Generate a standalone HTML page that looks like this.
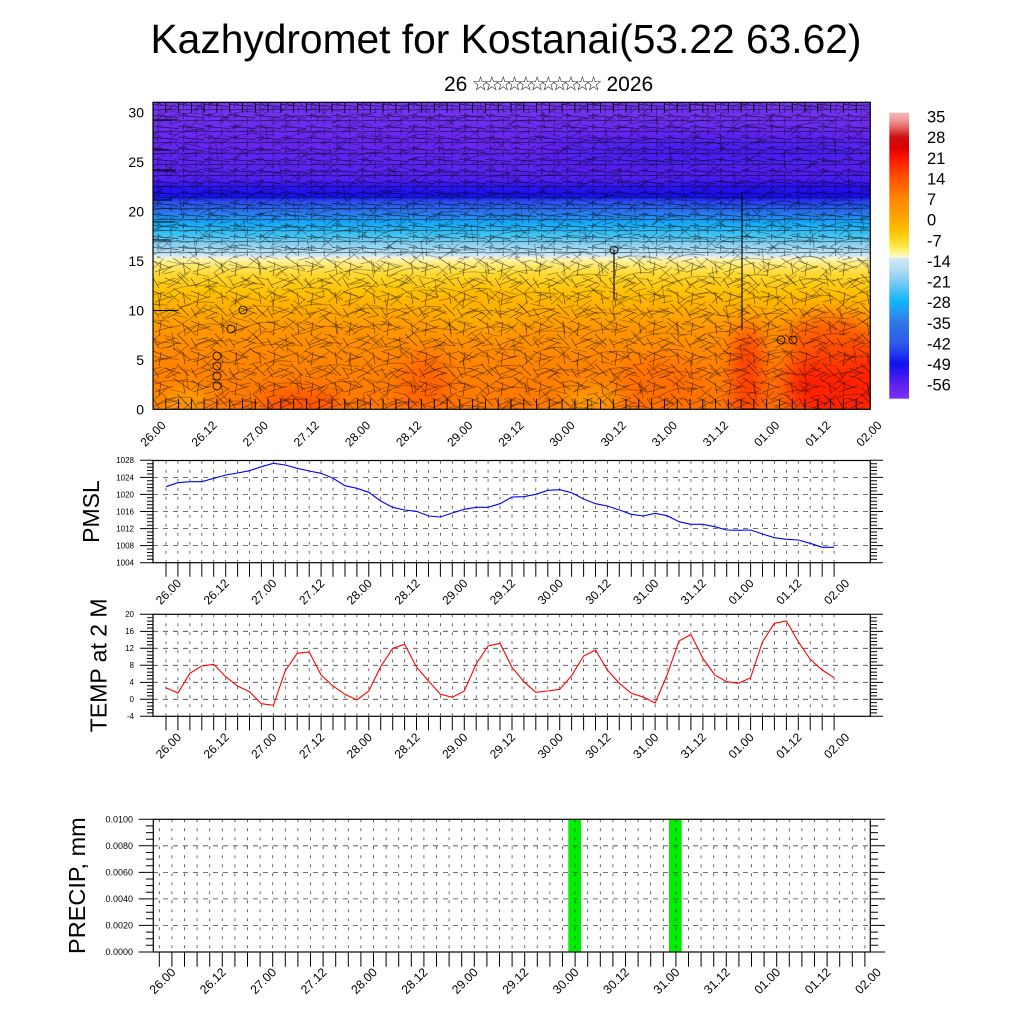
<!DOCTYPE html>
<html>
<head>
<meta charset="utf-8">
<style>
html,body{margin:0;padding:0;background:#fff;}
svg{display:block;}
text{font-family:"Liberation Sans",Arial,sans-serif;fill:#000;}
</style>
</head>
<body>
<svg width="1024" height="1024" viewBox="0 0 1024 1024" xmlns="http://www.w3.org/2000/svg">
<defs>
<clipPath id="cp"><rect x="153" y="102.3" width="717.3" height="307"/></clipPath>
<linearGradient id="g1" gradientUnits="userSpaceOnUse" x1="0" y1="102.3" x2="0" y2="409.3">
<stop offset="0" stop-color="#7636f2"/>
<stop offset="0.06" stop-color="#6e2ef0"/>
<stop offset="0.13" stop-color="#6626f0"/>
<stop offset="0.2" stop-color="#5e24f0"/>
<stop offset="0.25" stop-color="#5020f0"/>
<stop offset="0.28" stop-color="#2a14f0"/>
<stop offset="0.305" stop-color="#1810f0"/>
<stop offset="0.325" stop-color="#2c50ea"/>
<stop offset="0.36" stop-color="#2a78ee"/>
<stop offset="0.395" stop-color="#16aaf6"/>
<stop offset="0.43" stop-color="#3cc2f4"/>
<stop offset="0.465" stop-color="#90d2f2"/>
<stop offset="0.503" stop-color="#d4ecf8"/>
<stop offset="0.507" stop-color="#fff6c0"/>
<stop offset="0.525" stop-color="#ffec80"/>
<stop offset="0.56" stop-color="#ffd830"/>
<stop offset="0.62" stop-color="#ffc000"/>
<stop offset="0.68" stop-color="#ffaa00"/>
<stop offset="0.74" stop-color="#ff9600"/>
<stop offset="0.84" stop-color="#ff8600"/>
<stop offset="1" stop-color="#ff7600"/>
</linearGradient>
<linearGradient id="gc" gradientUnits="userSpaceOnUse" x1="0" y1="112.7" x2="0" y2="398.7">
<stop offset="0" stop-color="#f6b8b8"/>
<stop offset="0.026" stop-color="#f09898"/>
<stop offset="0.053" stop-color="#e46060"/>
<stop offset="0.085" stop-color="#cc1010"/>
<stop offset="0.123" stop-color="#dc0000"/>
<stop offset="0.158" stop-color="#ff1400"/>
<stop offset="0.193" stop-color="#ff3400"/>
<stop offset="0.228" stop-color="#ff5200"/>
<stop offset="0.27" stop-color="#ff7000"/>
<stop offset="0.302" stop-color="#ff8800"/>
<stop offset="0.34" stop-color="#ff9800"/>
<stop offset="0.372" stop-color="#ffa800"/>
<stop offset="0.41" stop-color="#ffc000"/>
<stop offset="0.445" stop-color="#ffd820"/>
<stop offset="0.48" stop-color="#fff070"/>
<stop offset="0.505" stop-color="#fffad0"/>
<stop offset="0.508" stop-color="#d4eaf8"/>
<stop offset="0.55" stop-color="#b0dcf2"/>
<stop offset="0.589" stop-color="#80ccf2"/>
<stop offset="0.627" stop-color="#40c0f6"/>
<stop offset="0.662" stop-color="#10b4f8"/>
<stop offset="0.7" stop-color="#2894f0"/>
<stop offset="0.732" stop-color="#3078e8"/>
<stop offset="0.771" stop-color="#3068e6"/>
<stop offset="0.808" stop-color="#3058ea"/>
<stop offset="0.85" stop-color="#2030f0"/>
<stop offset="0.878" stop-color="#1010f0"/>
<stop offset="0.916" stop-color="#3818f0"/>
<stop offset="0.951" stop-color="#6020f0"/>
<stop offset="1" stop-color="#7a34f2"/>
</linearGradient>
<filter id="bl" x="-50%" y="-50%" width="200%" height="200%"><feGaussianBlur stdDeviation="10"/></filter>
<pattern id="pu" patternUnits="userSpaceOnUse" x="153" y="102" width="25.57" height="11">
<path d="M0 2.5L25.6 4.5M0 8L25.6 7M5 0V6M17.8 5V11M5 0.5L9 3" stroke="#000" stroke-width="0.65" fill="none" opacity="0.65"/>
</pattern>
<pattern id="pl" patternUnits="userSpaceOnUse" x="153" y="258" width="38" height="30">
<path d="M0 3L18 10M20 0L38 12M2 14L20 8M24 16L36 28M4 27L22 20M26 24L14 30M8 4L6 18M30 4L32 16M12 20L28 26M0 20L6 30" stroke="#000" stroke-width="0.65" fill="none" opacity="0.65"/>
</pattern>
<pattern id="pl2" patternUnits="userSpaceOnUse" width="29" height="23" patternTransform="rotate(25)">
<path d="M0 5L14 2M16 10L29 14M3 18L12 11M19 20L26 4" stroke="#000" stroke-width="0.6" fill="none" opacity="0.5"/>
</pattern>
<pattern id="pl3" patternUnits="userSpaceOnUse" width="53" height="41" patternTransform="rotate(-20)">
<path d="M0 6Q20 0 40 10T53 14M5 25Q25 18 45 30M10 38L30 33M48 2L44 20" stroke="#000" stroke-width="0.6" fill="none" opacity="0.5"/>
</pattern>
<path id="bb" d="M165.8 0v10.5M178.6 0v10.5M191.4 0v10.5M204.1 0v10.5M216.9 0v10.5M229.7 0v10.5M242.5 0v10.5M255.3 0v10.5M268.1 0v10.5M280.9 0v10.5M293.6 0v10.5M306.4 0v10.5M319.2 0v10.5M332 0v10.5M344.8 0v10.5M357.6 0v10.5M370.3 0v10.5M383.1 0v10.5M395.9 0v10.5M408.7 0v10.5M421.5 0v10.5M434.3 0v10.5M447.1 0v10.5M459.8 0v10.5M472.6 0v10.5M485.4 0v10.5M498.2 0v10.5M511 0v10.5M523.8 0v10.5M536.6 0v10.5M549.3 0v10.5M562.1 0v10.5M574.9 0v10.5M587.7 0v10.5M600.5 0v10.5M613.3 0v10.5M626 0v10.5M638.8 0v10.5M651.6 0v10.5M664.4 0v10.5M677.2 0v10.5M690 0v10.5M702.8 0v10.5M715.5 0v10.5M728.3 0v10.5M741.1 0v10.5M753.9 0v10.5M766.7 0v10.5M779.5 0v10.5M792.3 0v10.5M805 0v10.5M817.8 0v10.5M830.6 0v10.5M843.4 0v10.5M856.2 0v10.5"/>
<path id="vg" d="M166 0v102M177.9 0v102M189.9 0v102M201.8 0v102M213.7 0v102M225.7 0v102M237.6 0v102M249.5 0v102M261.4 0v102M273.4 0v102M285.3 0v102M297.2 0v102M309.2 0v102M321.1 0v102M333 0v102M345 0v102M356.9 0v102M368.8 0v102M380.7 0v102M392.7 0v102M404.6 0v102M416.5 0v102M428.5 0v102M440.4 0v102M452.3 0v102M464.3 0v102M476.2 0v102M488.1 0v102M500 0v102M512 0v102M523.9 0v102M535.8 0v102M547.8 0v102M559.7 0v102M571.6 0v102M583.6 0v102M595.5 0v102M607.4 0v102M619.3 0v102M631.3 0v102M643.2 0v102M655.1 0v102M667.1 0v102M679 0v102M690.9 0v102M702.9 0v102M714.8 0v102M726.7 0v102M738.6 0v102M750.6 0v102M762.5 0v102M774.4 0v102M786.4 0v102M798.3 0v102M810.2 0v102M822.2 0v102M834.1 0v102"/>
<path id="tk" d="M166 0v14M177.9 0v14M189.9 0v14M201.8 0v14M213.7 0v14M225.7 0v14M237.6 0v14M249.5 0v14M261.4 0v14M273.4 0v14M285.3 0v14M297.2 0v14M309.2 0v14M321.1 0v14M333 0v14M345 0v14M356.9 0v14M368.8 0v14M380.7 0v14M392.7 0v14M404.6 0v14M416.5 0v14M428.5 0v14M440.4 0v14M452.3 0v14M464.3 0v14M476.2 0v14M488.1 0v14M500 0v14M512 0v14M523.9 0v14M535.8 0v14M547.8 0v14M559.7 0v14M571.6 0v14M583.6 0v14M595.5 0v14M607.4 0v14M619.3 0v14M631.3 0v14M643.2 0v14M655.1 0v14M667.1 0v14M679 0v14M690.9 0v14M702.9 0v14M714.8 0v14M726.7 0v14M738.6 0v14M750.6 0v14M762.5 0v14M774.4 0v14M786.4 0v14M798.3 0v14M810.2 0v14M822.2 0v14M834.1 0v14"/>
<path id="ytk" d="M140 0H153M140 17.1H153M140 34.1H153M140 51.2H153M140 68.3H153M140 85.3H153M140 102.4H153M147 3.4H153M147 6.8H153M147 10.2H153M147 13.7H153M147 20.5H153M147 23.9H153M147 27.3H153M147 30.7H153M147 37.5H153M147 41H153M147 44.4H153M147 47.8H153M147 54.6H153M147 58H153M147 61.4H153M147 64.9H153M147 71.7H153M147 75.1H153M147 78.5H153M147 81.9H153M147 88.7H153M147 92.2H153M147 95.6H153M147 99H153M870 0H883M870 17.1H883M870 34.1H883M870 51.2H883M870 68.3H883M870 85.3H883M870 102.4H883M870 3.4H877M870 6.8H877M870 10.2H877M870 13.7H877M870 20.5H877M870 23.9H877M870 27.3H877M870 30.7H877M870 37.5H877M870 41H877M870 44.4H877M870 47.8H877M870 54.6H877M870 58H877M870 61.4H877M870 64.9H877M870 71.7H877M870 75.1H877M870 78.5H877M870 81.9H877M870 88.7H877M870 92.2H877M870 95.6H877M870 99H877"/>
</defs>

<!-- Title -->
<text x="506" y="53" font-size="41" text-anchor="middle" textLength="711" lengthAdjust="spacingAndGlyphs">Kazhydromet for Kostanai(53.22 63.62)</text>
<text x="444" y="91" font-size="21">26</text>
<text x="480.6 491.9 503.2 514.5 525.8 537.1 548.4 559.7 571 582.3 593.6" y="90.5" font-size="20" text-anchor="middle" style="font-family:'DejaVu Sans',sans-serif;fill:#222">☆☆☆☆☆☆☆☆☆☆☆</text>
<text x="606.5" y="91" font-size="21">2026</text>

<!-- Top contour panel -->
<g clip-path="url(#cp)">
<rect x="153" y="102.3" width="717.3" height="307" fill="url(#g1)"/>
<g filter="url(#bl)">
<ellipse cx="720" cy="152" rx="170" ry="8" fill="#2818f0" opacity="0.85"/>
<ellipse cx="780" cy="192" rx="100" ry="7" fill="#1a10f0" opacity="0.6"/>
<ellipse cx="845" cy="385" rx="60" ry="45" fill="#ff2400"/>
<ellipse cx="830" cy="340" rx="45" ry="25" fill="#ff5000" opacity="0.8"/>
<ellipse cx="748" cy="375" rx="14" ry="50" fill="#ff3800"/>
<ellipse cx="300" cy="405" rx="40" ry="14" fill="#ff5000"/>
<ellipse cx="425" cy="385" rx="25" ry="30" fill="#ff6400"/>
<ellipse cx="660" cy="385" rx="45" ry="25" fill="#ff6a00" opacity="0.8"/>
<ellipse cx="590" cy="400" rx="30" ry="12" fill="#ffa400"/>
<ellipse cx="185" cy="400" rx="28" ry="12" fill="#ffa400"/>
<ellipse cx="480" cy="310" rx="45" ry="20" fill="#ffb400" opacity="0.7"/>
</g>
<rect x="153" y="102.3" width="717.3" height="156" fill="url(#pu)"/>
<rect x="153" y="258" width="717.3" height="152" fill="url(#pl)"/>
<rect x="153" y="102.3" width="717.3" height="307" fill="url(#pl2)"/>
<rect x="153" y="102.3" width="717.3" height="307" fill="url(#pl3)"/>
<g stroke="#000" stroke-width="0.9" fill="none">
<use href="#bb" transform="translate(0,102.3)"/>
<use href="#bb" transform="translate(0,398.8)"/>
<path d="M742 192V330M614 250V300M153 310.5H178M153 120H178M153 150H170M153 170H176M153 200H172M153 222H175M153 240H170" stroke-width="1.1"/>
<circle cx="243" cy="310" r="4" stroke-width="0.8"/>
<circle cx="231" cy="329" r="4" stroke-width="0.8"/>
<circle cx="217" cy="356" r="4" stroke-width="0.8"/>
<circle cx="217" cy="366" r="4" stroke-width="0.8"/>
<circle cx="217" cy="376" r="4" stroke-width="0.8"/>
<circle cx="217" cy="386" r="4" stroke-width="0.8"/>
<circle cx="614" cy="250" r="4" stroke-width="0.8"/>
<circle cx="781" cy="340" r="4" stroke-width="0.8"/>
<circle cx="793" cy="340" r="4" stroke-width="0.8"/>
</g>
</g>
<rect x="153" y="102.3" width="717.3" height="307" fill="none" stroke="#000" stroke-width="1.2"/>

<g font-size="14" text-anchor="end">
<text x="144" y="117.6">30</text>
<text x="144" y="167">25</text>
<text x="144" y="216.5">20</text>
<text x="144" y="266">15</text>
<text x="144" y="315.4">10</text>
<text x="144" y="364.9">5</text>
<text x="144" y="414.3">0</text>
</g>

<g font-size="12" text-anchor="end">
<text transform="translate(166.5,426) rotate(-45)">26.00</text>
<text transform="translate(217.6,426) rotate(-45)">26.12</text>
<text transform="translate(268.8,426) rotate(-45)">27.00</text>
<text transform="translate(319.9,426) rotate(-45)">27.12</text>
<text transform="translate(371.1,426) rotate(-45)">28.00</text>
<text transform="translate(422.2,426) rotate(-45)">28.12</text>
<text transform="translate(473.3,426) rotate(-45)">29.00</text>
<text transform="translate(524.5,426) rotate(-45)">29.12</text>
<text transform="translate(575.6,426) rotate(-45)">30.00</text>
<text transform="translate(626.8,426) rotate(-45)">30.12</text>
<text transform="translate(677.9,426) rotate(-45)">31.00</text>
<text transform="translate(729,426) rotate(-45)">31.12</text>
<text transform="translate(780.2,426) rotate(-45)">01.00</text>
<text transform="translate(831.3,426) rotate(-45)">01.12</text>
<text transform="translate(882.5,426) rotate(-45)">02.00</text>
</g>

<!-- Colorbar -->
<rect x="889.3" y="112.7" width="19.7" height="286" fill="url(#gc)"/>
<g font-size="16.5">
<text x="927" y="122.6">35</text>
<text x="927" y="143.2">28</text>
<text x="927" y="163.8">21</text>
<text x="927" y="184.4">14</text>
<text x="927" y="205.1">7</text>
<text x="927" y="225.7">0</text>
<text x="927" y="246.3">-7</text>
<text x="927" y="266.9">-14</text>
<text x="927" y="287.5">-21</text>
<text x="927" y="308.1">-28</text>
<text x="927" y="328.8">-35</text>
<text x="927" y="349.4">-42</text>
<text x="927" y="370">-49</text>
<text x="927" y="390.6">-56</text>
</g>

<!-- PMSL panel -->
<g stroke="#444" stroke-width="0.8" fill="none">
<use href="#vg" transform="translate(0,460.7)" stroke-dasharray="3 6"/>
<path d="M153 477.4H870M153 494.4H870M153 511.5H870M153 528.6H870M153 545.6H870" stroke-dasharray="5 5"/>
</g>
<polyline fill="none" stroke="#0000ff" stroke-width="1.1" points="166,486.7 177.9,482.7 189.9,481.7 201.8,481.7 213.7,478.3 225.7,475 237.6,473 249.5,470.7 261.4,466.7 273.4,463.3 285.3,465 297.2,468.3 309.2,471 321.1,473.3 333,478.3 345,485.7 356.9,488.3 368.8,492.3 380.7,501 392.7,507.3 404.6,510 416.5,511.3 428.5,516 440.4,517 452.3,513 464.3,509.3 476.2,507.3 488.1,507.3 500,503.7 512,497 523.9,496.7 535.8,494.3 547.8,490.3 559.7,489.7 571.6,492.7 583.6,499 595.5,503.7 607.4,506 619.3,510 631.3,514.3 643.2,516 655.1,513.3 667.1,515.7 679,521.7 690.9,524.3 702.9,524.3 714.8,526.7 726.7,530 738.6,530.3 750.6,530 762.5,534 774.4,537.7 786.4,539.3 798.3,540 810.2,543.3 822.2,547.3 834.1,547.3"/>
<rect x="153" y="460.5" width="717.3" height="102.2" fill="none" stroke="#000" stroke-width="1.2"/>
<g stroke="#000" stroke-width="1" fill="none">
<use href="#tk" transform="translate(0,562.7)"/>
<use href="#ytk" transform="translate(0,460.3)"/>
</g>
<g font-size="8" text-anchor="end">
<text x="134" y="463.2">1028</text>
<text x="134" y="480.3">1024</text>
<text x="134" y="497.3">1020</text>
<text x="134" y="514.4">1016</text>
<text x="134" y="531.5">1012</text>
<text x="134" y="548.5">1008</text>
<text x="134" y="565.6">1004</text>
</g>
<text transform="translate(99,511.5) rotate(-90)" font-size="23" text-anchor="middle">PMSL</text>
<g font-size="12" text-anchor="end">
<text transform="translate(182,584) rotate(-45)">26.00</text>
<text transform="translate(229.7,584) rotate(-45)">26.12</text>
<text transform="translate(277.4,584) rotate(-45)">27.00</text>
<text transform="translate(325.2,584) rotate(-45)">27.12</text>
<text transform="translate(372.9,584) rotate(-45)">28.00</text>
<text transform="translate(420.6,584) rotate(-45)">28.12</text>
<text transform="translate(468.3,584) rotate(-45)">29.00</text>
<text transform="translate(516,584) rotate(-45)">29.12</text>
<text transform="translate(563.8,584) rotate(-45)">30.00</text>
<text transform="translate(611.5,584) rotate(-45)">30.12</text>
<text transform="translate(659.2,584) rotate(-45)">31.00</text>
<text transform="translate(706.9,584) rotate(-45)">31.12</text>
<text transform="translate(754.6,584) rotate(-45)">01.00</text>
<text transform="translate(802.4,584) rotate(-45)">01.12</text>
<text transform="translate(850.1,584) rotate(-45)">02.00</text>
</g>

<!-- TEMP panel -->
<g stroke="#444" stroke-width="0.8" fill="none">
<use href="#vg" transform="translate(0,614.3)" stroke-dasharray="3 6"/>
<path d="M153 631.3H870M153 648.3H870M153 665.3H870M153 682.3H870M153 699.3H870" stroke-dasharray="5 5"/>
</g>
<polyline fill="none" stroke="#ff0000" stroke-width="1.1" points="166,687.7 177.9,693 189.9,673.3 201.8,666 213.7,664.3 225.7,676.7 237.6,686 249.5,691.7 261.4,703.7 273.4,705.3 285.3,670.7 297.2,653.3 309.2,652 321.1,675 333,686 345,694.3 356.9,700 368.8,691 380.7,666.7 392.7,648.3 404.6,644.3 416.5,667 428.5,681 440.4,694.3 452.3,697.3 464.3,691 476.2,664 488.1,646 500,643.3 512,667.3 523.9,681.7 535.8,692.3 547.8,691 559.7,689.3 571.6,675.7 583.6,656 595.5,650 607.4,670 619.3,683.3 631.3,693.3 643.2,697 655.1,703 667.1,675 679,641 690.9,634.5 702.9,658.3 714.8,675 726.7,681.7 738.6,683.3 750.6,677.7 762.5,641.7 774.4,623.3 786.4,621 798.3,641.7 810.2,659.3 822.2,670 834.1,677.7"/>
<rect x="153" y="614.3" width="717.3" height="102" fill="none" stroke="#000" stroke-width="1.2"/>
<g stroke="#000" stroke-width="1" fill="none">
<use href="#tk" transform="translate(0,716.3)"/>
<use href="#ytk" transform="translate(0,614.3) scale(1,0.996)"/>
</g>
<g font-size="8" text-anchor="end">
<text x="134" y="617.2">20</text>
<text x="134" y="634.2">16</text>
<text x="134" y="651.2">12</text>
<text x="134" y="668.2">8</text>
<text x="134" y="685.2">4</text>
<text x="134" y="702.2">0</text>
<text x="134" y="719.2">-4</text>
</g>
<text transform="translate(106.5,665.3) rotate(-90)" font-size="23" text-anchor="middle">TEMP at 2 M</text>
<g font-size="12" text-anchor="end">
<text transform="translate(182,738) rotate(-45)">26.00</text>
<text transform="translate(229.7,738) rotate(-45)">26.12</text>
<text transform="translate(277.4,738) rotate(-45)">27.00</text>
<text transform="translate(325.2,738) rotate(-45)">27.12</text>
<text transform="translate(372.9,738) rotate(-45)">28.00</text>
<text transform="translate(420.6,738) rotate(-45)">28.12</text>
<text transform="translate(468.3,738) rotate(-45)">29.00</text>
<text transform="translate(516,738) rotate(-45)">29.12</text>
<text transform="translate(563.8,738) rotate(-45)">30.00</text>
<text transform="translate(611.5,738) rotate(-45)">30.12</text>
<text transform="translate(659.2,738) rotate(-45)">31.00</text>
<text transform="translate(706.9,738) rotate(-45)">31.12</text>
<text transform="translate(754.6,738) rotate(-45)">01.00</text>
<text transform="translate(802.4,738) rotate(-45)">01.12</text>
<text transform="translate(850.1,738) rotate(-45)">02.00</text>
</g>

<!-- PRECIP panel -->
<rect x="568.3" y="819.3" width="12.7" height="132.7" fill="#00ee00"/>
<rect x="669" y="819.3" width="12.7" height="132.7" fill="#00ee00"/>
<g stroke="#444" stroke-width="0.8" fill="none">
<path stroke-dasharray="3 6" d="M159.3 819.3v132.7M171.9 819.3v132.7M184.5 819.3v132.7M197.1 819.3v132.7M209.7 819.3v132.7M222.3 819.3v132.7M234.9 819.3v132.7M247.5 819.3v132.7M260.1 819.3v132.7M272.7 819.3v132.7M285.3 819.3v132.7M297.9 819.3v132.7M310.5 819.3v132.7M323.1 819.3v132.7M335.7 819.3v132.7M348.3 819.3v132.7M360.9 819.3v132.7M373.5 819.3v132.7M386.1 819.3v132.7M398.7 819.3v132.7M411.3 819.3v132.7M423.9 819.3v132.7M436.5 819.3v132.7M449.1 819.3v132.7M461.7 819.3v132.7M474.3 819.3v132.7M486.9 819.3v132.7M499.5 819.3v132.7M512.1 819.3v132.7M524.7 819.3v132.7M537.3 819.3v132.7M549.9 819.3v132.7M562.5 819.3v132.7M575.1 819.3v132.7M587.7 819.3v132.7M600.3 819.3v132.7M612.9 819.3v132.7M625.5 819.3v132.7M638.1 819.3v132.7M650.7 819.3v132.7M663.3 819.3v132.7M675.9 819.3v132.7M688.5 819.3v132.7M701.1 819.3v132.7M713.7 819.3v132.7M726.3 819.3v132.7M738.9 819.3v132.7M751.5 819.3v132.7M764.1 819.3v132.7M776.7 819.3v132.7M789.3 819.3v132.7M801.9 819.3v132.7M814.5 819.3v132.7M827.1 819.3v132.7M839.7 819.3v132.7M852.3 819.3v132.7M864.9 819.3v132.7"/>
<path stroke-dasharray="5 5" d="M153 845.8H870M153 872.4H870M153 898.9H870M153 925.4H870"/>
</g>
<rect x="153.3" y="819.3" width="717" height="132.7" fill="none" stroke="#000" stroke-width="1.2"/>
<g stroke="#000" stroke-width="1" fill="none">
<path d="M159.3 952v14.7M171.9 952v14.7M184.5 952v14.7M197.1 952v14.7M209.7 952v14.7M222.3 952v14.7M234.9 952v14.7M247.5 952v14.7M260.1 952v14.7M272.7 952v14.7M285.3 952v14.7M297.9 952v14.7M310.5 952v14.7M323.1 952v14.7M335.7 952v14.7M348.3 952v14.7M360.9 952v14.7M373.5 952v14.7M386.1 952v14.7M398.7 952v14.7M411.3 952v14.7M423.9 952v14.7M436.5 952v14.7M449.1 952v14.7M461.7 952v14.7M474.3 952v14.7M486.9 952v14.7M499.5 952v14.7M512.1 952v14.7M524.7 952v14.7M537.3 952v14.7M549.9 952v14.7M562.5 952v14.7M575.1 952v14.7M587.7 952v14.7M600.3 952v14.7M612.9 952v14.7M625.5 952v14.7M638.1 952v14.7M650.7 952v14.7M663.3 952v14.7M675.9 952v14.7M688.5 952v14.7M701.1 952v14.7M713.7 952v14.7M726.3 952v14.7M738.9 952v14.7M751.5 952v14.7M764.1 952v14.7M776.7 952v14.7M789.3 952v14.7M801.9 952v14.7M814.5 952v14.7M827.1 952v14.7M839.7 952v14.7M852.3 952v14.7M864.9 952v14.7"/>
<path d="M138.7 819.3H153M138.7 845.8H153M138.7 872.4H153M138.7 898.9H153M138.7 925.4H153M138.7 952H153M146 825.9H153M146 832.6H153M146 839.2H153M146 852.5H153M146 859.1H153M146 865.7H153M146 879H153M146 885.6H153M146 892.3H153M146 905.5H153M146 912.2H153M146 918.8H153M146 932.1H153M146 938.7H153M146 945.3H153M870 819.3H885M870 845.8H885M870 872.4H885M870 898.9H885M870 925.4H885M870 952H885M870 825.9H878M870 832.6H878M870 839.2H878M870 852.5H878M870 859.1H878M870 865.7H878M870 879H878M870 885.6H878M870 892.3H878M870 905.5H878M870 912.2H878M870 918.8H878M870 932.1H878M870 938.7H878M870 945.3H878"/>
</g>
<g font-size="9" text-anchor="end">
<text x="133" y="822.5">0.0100</text>
<text x="133" y="849">0.0080</text>
<text x="133" y="875.6">0.0060</text>
<text x="133" y="902.1">0.0040</text>
<text x="133" y="928.6">0.0020</text>
<text x="133" y="955.2">0.0000</text>
</g>
<text transform="translate(85,885.6) rotate(-90)" font-size="23.5" text-anchor="middle">PRECIP, mm</text>
<g font-size="12.3" text-anchor="end">
<text transform="translate(176.3,973) rotate(-45)">26.00</text>
<text transform="translate(226.7,973) rotate(-45)">26.12</text>
<text transform="translate(277.1,973) rotate(-45)">27.00</text>
<text transform="translate(327.5,973) rotate(-45)">27.12</text>
<text transform="translate(377.9,973) rotate(-45)">28.00</text>
<text transform="translate(428.3,973) rotate(-45)">28.12</text>
<text transform="translate(478.7,973) rotate(-45)">29.00</text>
<text transform="translate(529.1,973) rotate(-45)">29.12</text>
<text transform="translate(579.5,973) rotate(-45)">30.00</text>
<text transform="translate(629.9,973) rotate(-45)">30.12</text>
<text transform="translate(680.3,973) rotate(-45)">31.00</text>
<text transform="translate(730.7,973) rotate(-45)">31.12</text>
<text transform="translate(781.1,973) rotate(-45)">01.00</text>
<text transform="translate(831.5,973) rotate(-45)">01.12</text>
<text transform="translate(881.9,973) rotate(-45)">02.00</text>
</g>
</svg>
</body>
</html>
